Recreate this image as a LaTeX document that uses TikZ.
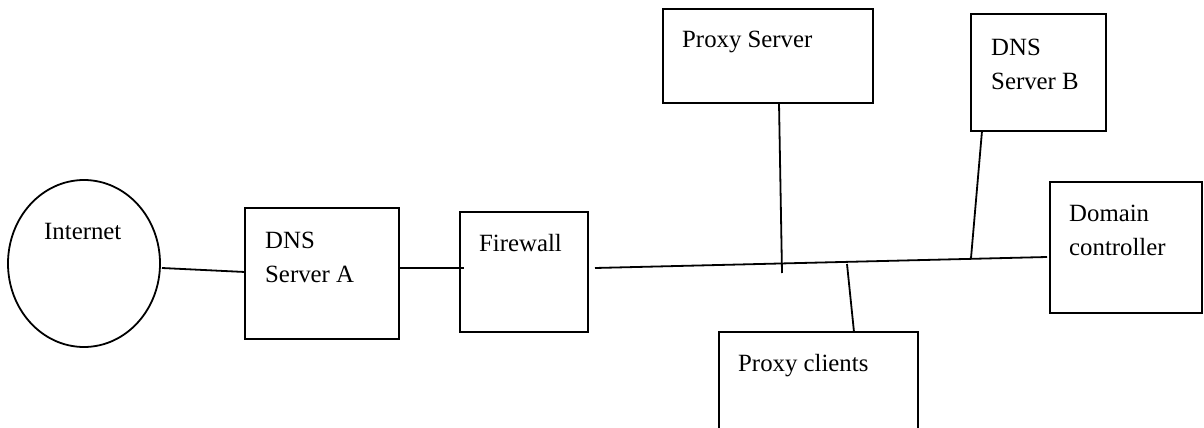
\documentclass[tikz,border=0pt]{standalone}
\usepackage{fontspec}
\setmainfont{Liberation Serif}
\usetikzlibrary{shapes.geometric,calc}
\tikzset{
  box/.style={draw=black, line width=1.8pt, rectangle, inner sep=0pt},
  cloud/.style={draw=black, line width=1.8pt, ellipse, inner sep=0pt},
  lbl/.style={anchor=base west, inner sep=0pt, align=left,
    font=\fontsize{24.8}{34}\selectfont},
  link/.style={draw=black, line width=1.8pt}
}
\begin{document}
\begin{tikzpicture}[x=1pt,y=-1pt]
\useasboundingbox (0,0) rectangle (1204,428);
\clip (0,0) rectangle (1204,428);
% nodes
\node[cloud, minimum width=152pt, minimum height=167pt] (inet) at (84,263.5) {};
\node[box, minimum width=154pt, minimum height=131pt] (dnsa) at (322,273.5) {};
\node[box, minimum width=128pt, minimum height=120pt] (fw) at (524,272) {};
\node[box, minimum width=210pt, minimum height=94pt] (proxy) at (768,56) {};
\node[box, minimum width=135pt, minimum height=117pt] (dnsb) at (1038.5,72.5) {};
\node[box, minimum width=152pt, minimum height=131pt] (dc) at (1126,247.5) {};
\node[box, minimum width=199pt, minimum height=128pt] (clients) at (818.5,396) {};
% labels (multi-line labels are placed by the baseline of their last line)
\node[lbl] (tinet) at (44,239) {Internet};
\node[lbl] (tdnsa) at (265,282) {DNS\\Server A};
\node[lbl] (tfw) at (479,251) {Firewall};
\node[lbl] (tproxy) at (682,48) {Proxy Server};
\node[lbl] (tdnsb) at (991,89) {DNS\\Server B};
\node[lbl] (tdc) at (1069,255) {Domain\\controller};
\node[lbl] (tclients) at (738,371) {Proxy clients};
% connector points
\coordinate (i1) at (162,268);
\coordinate (a1) at (245,272);
\coordinate (a2) at (399,268);
\coordinate (f1) at (464,268);
\coordinate (busL) at (595,268);
\coordinate (busR) at (1047,257);
\coordinate (p1) at (779,103);
\coordinate (p2) at (782,273);
\coordinate (b1) at (982,131);
\coordinate (b2) at (971,258);
\coordinate (c1) at (847,264);
\coordinate (c2) at (854,332);
% connectors
\draw[link] (i1) -- (a1);
\draw[link] (a2) -- (f1);
\draw[link] (busL) -- (busR);
\draw[link] (p1) -- (p2);
\draw[link] (b1) -- (b2);
\draw[link] (c1) -- (c2);
\end{tikzpicture}
\end{document}
